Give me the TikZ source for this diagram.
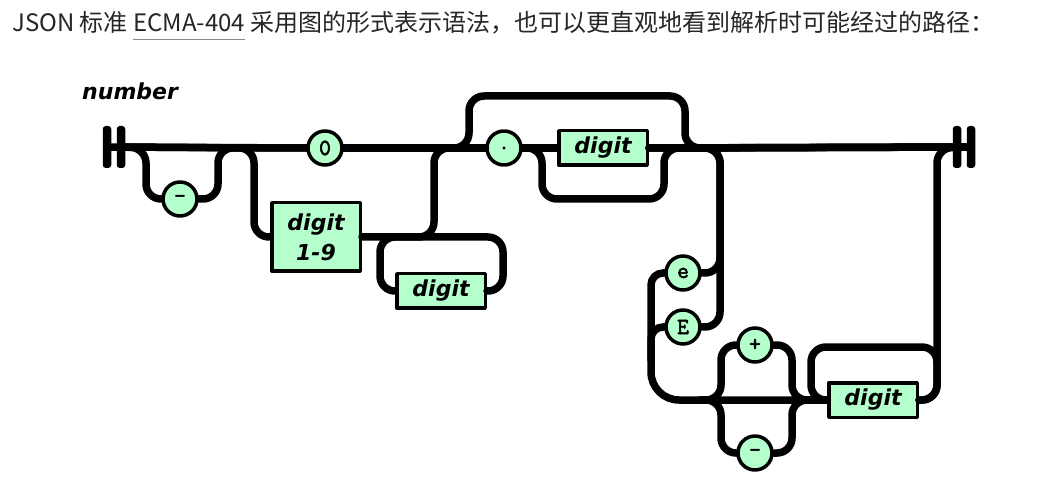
\documentclass[tikz,border=0pt]{standalone}
\usepackage{fontspec}
\newfontfamily\cjkfont{Noto Sans CJK SC}
\newfontfamily\railfont{DejaVu Sans}
\newfontfamily\tokfont{Latin Modern Mono}[AutoFakeBold=2.5]
\usetikzlibrary{positioning}
\definecolor{railgreen}{RGB}{180,255,204}
\definecolor{linkgray}{RGB}{136,136,136}
\newcommand{\linkword}[1]{\setbox0\hbox{#1}\rlap{\color{linkgray}\rule[-8pt]{\wd0}{1pt}}\box0\relax}

\begin{document}
\begin{tikzpicture}[line cap=round,line join=round,x=1pt,y=-1pt,
    rail/.style={line width=7.5pt, rounded corners=15pt},
    tok/.style={circle, draw, line width=3.5pt, fill=railgreen, minimum size=34pt, inner sep=0pt, font=\tokfont\bfseries\fontsize{23}{23}\selectfont},
    term/.style={rectangle, draw, line width=3.5pt, fill=railgreen, minimum width=88.5pt, minimum height=34.5pt, inner sep=0pt, align=center, font=\railfont\bfseries\itshape\fontsize{22}{30}\selectfont},
    bar/.style={rectangle, fill=black, rounded corners=3pt, minimum width=8.5pt, minimum height=42pt, inner sep=0pt}]
    \useasboundingbox (0,0) rectangle (1054,502);

    \node[anchor=base west, inner sep=0pt, text=black!85, font=\cjkfont\fontsize{24}{24}\selectfont] (intro) at (12,32) {JSON 标准 \linkword{ECMA-404} 采用图的形式表示语法，也可以更直观地看到解析时可能经过的路径：};
    \node[anchor=base west, inner sep=0pt, font=\railfont\bfseries\itshape\fontsize{22}{22}\selectfont] (title) at (82,100) {number};

    \node[bar] (startA) at (107,147) {};
    \node[bar] (startB) at (121,147) {};
    \node[bar] (endA) at (957,147) {};
    \node[bar] (endB) at (971,147) {};

    \node[tok] (minus) at (180,199) {-};
    \node[tok] (zero) at (325,148) {0};
    \node[term, minimum height=68.5pt] (nonzero) at (316,237) {digit\\1-9};
    \node[term] (intdigit) at (441,291) {digit};
    \node[tok] (dot) at (504,148) {.};
    \node[term] (fracdigit) at (603,148) {digit};
    \node[tok] (lowe) at (683,273) {e};
    \node[tok] (uppere) at (683,327) {E};
    \node[tok] (plus) at (755,345) {+};
    \node[tok] (sign) at (755,453) {-};
    \node[term] (expdigit) at (873,400) {digit};
    \coordinate (expjoin) at (700,400);

    % main line
    \draw[rail] (startA.center) -- (zero.west);
    \draw[rail] (zero.east) -- (dot.west);
    \draw[rail] (dot.east) -- (fracdigit.west);
    \draw[rail] (fracdigit.east) -- (endB.center);

    % integer part
    \draw[rail] (startB.center) -- (146,148) -- (146,199) -- (minus.west);
    \draw[rail] (minus.east) -- (218,199) -- (218,148) -- (zero.west);
    \draw[rail] (startB.center) -- (254,148) -- (254,237) -- (nonzero.west);
    \draw[rail] (nonzero.east) -- (434,237) -- (434,148) -- (dot.west);
    \draw[rail] (intdigit.west) -- (380,291) -- (380,237) -- (503,237) -- (503,291) -- (intdigit.east);

    % fraction
    \draw[rail] (zero.east) -- (469,148) -- (469,96) -- (685,96) -- (685,148) -- (endB.center);
    \draw[rail] (dot.east) -- (542,148) -- (542,199) -- (664,199) -- (664,148) -- (endB.center);

    % exponent
    \draw[rail] (fracdigit.east) -- (720,148) -- (720,327) -- (uppere.east);
    \draw[rail] (fracdigit.east) -- (720,148) -- (720,273) -- (lowe.east);
    \draw[rail, rounded corners=12pt] (lowe.west) -- (651,273) -- (651,360) [rounded corners=28pt] -- (651,400) -- (expdigit.west);
    \draw[rail, rounded corners=12pt] (uppere.west) -- (651,327) -- (651,360);
    \draw[rail] (expjoin) -- (721,400) -- (721,345) -- (plus.west);
    \draw[rail] (plus.east) -- (792,345) -- (792,400) -- (expdigit.west);
    \draw[rail] (expjoin) -- (721,400) -- (721,453) -- (sign.west);
    \draw[rail] (sign.east) -- (792,453) -- (792,400) -- (expdigit.west);
    \draw[rail] (expdigit.west) -- (811,400) -- (811,347) -- (937,347) -- (937,400) -- (expdigit.east);
    \draw[rail] (expdigit.east) -- (937,400) -- (937,148) -- (endB.center);
\end{tikzpicture}
\end{document}
